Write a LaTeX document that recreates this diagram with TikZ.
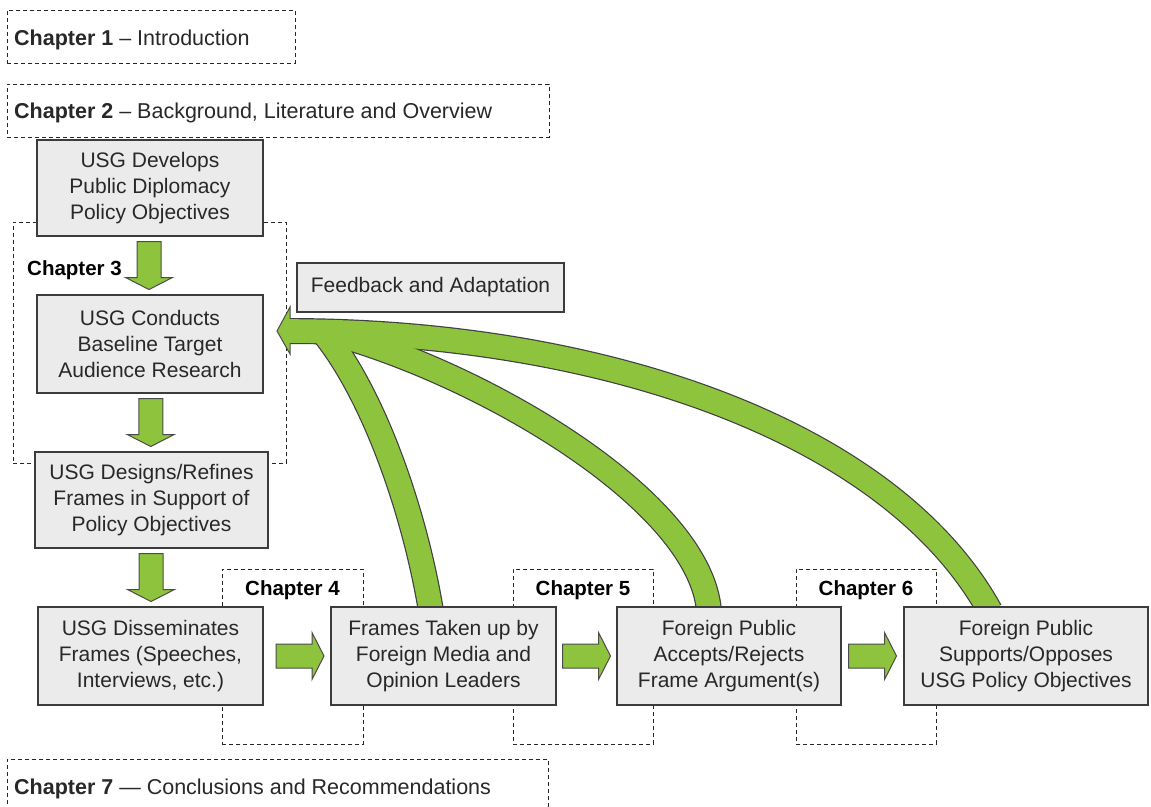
\documentclass[tikz,border=0pt]{standalone}
\usepackage{fontspec}
\setmainfont{Liberation Sans}
\usetikzlibrary{calc}
\definecolor{boxfill}{RGB}{235,235,235}
\definecolor{boxline}{RGB}{60,60,60}
\definecolor{fbgreen}{RGB}{142,195,62}
\definecolor{txt}{RGB}{40,40,40}
\tikzset{
  box/.style={draw=boxline, fill=boxfill, line width=1.3pt, align=center, text=txt,
    font=\fontsize{21}{26}\selectfont, inner sep=0pt},
  chapdash/.style={draw=black!85, line width=0.9pt, dash pattern=on 4pt off 3pt, inner sep=0pt},
  chaplabel/.style={font=\fontsize{20.5}{24}\selectfont\bfseries, text=black, inner sep=0pt, anchor=base},
  titlelabel/.style={font=\fontsize{21.5}{26}\selectfont, text=txt, inner sep=0pt, anchor=base west},
  arrowfill/.style={fill=fbgreen, draw=black!70, line width=1pt, line join=miter},
  fatarrow/.pic={\path[arrowfill] (-24,-12) -- (12,-12) -- (12,-23.5) -- (24,0) -- (12,23.5) -- (12,12) -- (-24,12) -- cycle;},
  arcout/.style={line width=26pt, draw=black!75},
  arcin/.style={line width=23.6pt, draw=fbgreen},
}
\begin{document}
\begin{tikzpicture}[x=1pt,y=-1pt]
\fill[white] (0,0) rectangle (1151,806);
\useasboundingbox (0,0) rectangle (1151,806);

% chapter frames
\node[chapdash, minimum width=288pt, minimum height=53pt, anchor=north west] (ch1) at (7,10) {};
\node[chapdash, minimum width=542pt, minimum height=53pt, anchor=north west] (ch2) at (7,84) {};
\node[chapdash, minimum width=541pt, minimum height=53pt, anchor=north west] (ch7) at (7,759) {};
\node[chapdash, minimum width=273pt, minimum height=241pt, anchor=north west] (ch3) at (13,222) {};
\node[chapdash, minimum width=141pt, minimum height=175pt, anchor=north west] (ch4) at (222,569) {};
\node[chapdash, minimum width=140pt, minimum height=175pt, anchor=north west] (ch5) at (513,569) {};
\node[chapdash, minimum width=140pt, minimum height=175pt, anchor=north west] (ch6) at (796,569) {};

\node[titlelabel] (t1) at (14,45.5) {\textbf{Chapter 1} – Introduction};
\node[titlelabel] (t2) at (14,118) {\textbf{Chapter 2} – Background, Literature and Overview};
\node[titlelabel] (t7) at (14,794) {\textbf{Chapter 7} — Conclusions and Recommendations};
\node[chaplabel, anchor=base west] (l3) at (27,275) {Chapter 3};
\node[chaplabel] (l4) at (292.5,595) {Chapter 4};
\node[chaplabel] (l5) at (583,595) {Chapter 5};
\node[chaplabel] (l6) at (866,595) {Chapter 6};

% box centres (boxes drawn after arcs)
\path (443.5,656) coordinate (Ec) (729,656) coordinate (Fc) (1026,656) coordinate (Gc);
\coordinate (s1) at ($(Ec)+(-12.5,-45)$);
\coordinate (s2) at ($(Fc)+(-20,-45)$);
\coordinate (s3) at ($(Gc)+(-36,-45)$);
\coordinate (m1) at (322,331);
\coordinate (m2) at (328,332);
\coordinate (m3) at (287,331);
\coordinate (tip) at (277,331);

% feedback arcs
\draw[arcout] (s1) .. controls (414,509) and (373,393) .. (m1);
\draw[arcout] (s2) .. controls (700,500) and (480,372) .. (m2);
\draw[arcout] (s3) .. controls (890,430) and (600,331) .. (m3);
\path[arrowfill] (tip) -- (290,307) -- (290,354) -- cycle;
\draw[arcin] (s1) .. controls (414,509) and (373,393) .. (m1);
\draw[arcin] (s2) .. controls (700,500) and (480,372) .. (m2);
\draw[arcin] (s3) .. controls (890,430) and (600,331) .. (m3);

\node[box, minimum width=226pt, minimum height=96pt] (A) at (150,188) {USG Develops\\Public Diplomacy\\Policy Objectives};
\node[box, minimum width=226pt, minimum height=98pt] (B) at (150,344) {USG Conducts\\Baseline Target\\Audience Research};
\node[box, minimum width=233pt, minimum height=96pt] (C) at (151.5,500) {USG Designs/Refines\\Frames in Support of\\Policy Objectives};
\node[box, minimum width=225pt, minimum height=98pt] (D) at (150.5,656) {USG Disseminates\\Frames (Speeches,\\Interviews, etc.)};
\node[box, minimum width=225pt, minimum height=98pt] (E) at (Ec) {Frames Taken up by\\Foreign Media and\\Opinion Leaders};
\node[box, minimum width=224pt, minimum height=98pt] (F) at (Fc) {Foreign Public\\Accepts/Rejects\\Frame Argument(s)};
\node[box, minimum width=244pt, minimum height=98pt] (G) at (Gc) {Foreign Public\\Supports/Opposes\\USG Policy Objectives};
\node[box, minimum width=267pt, minimum height=49pt] (FB) at (430.5,287.5) {Feedback and Adaptation};

% straight arrows
\pic[rotate=-90] at ($(A.south)!0.5!(B.north)+(-1,0)$) {fatarrow};
\pic[rotate=-90] at ($(B.south)!0.5!(C.north)$) {fatarrow};
\pic[rotate=-90] at ($(C.south)!0.5!(D.north)$) {fatarrow};
\pic at ($(D.east)!0.5!(E.west)+(3,0)$) {fatarrow};
\pic at ($(E.east)!0.5!(F.west)$) {fatarrow};
\pic at ($(F.east)!0.5!(G.west)$) {fatarrow};
\end{tikzpicture}
\end{document}
